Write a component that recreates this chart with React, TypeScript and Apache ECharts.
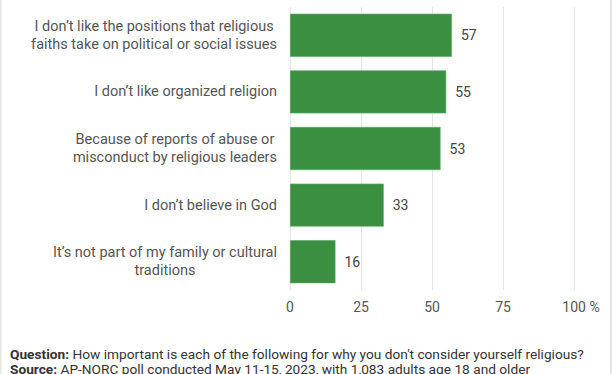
import React, { useEffect, useRef } from "react";
import * as echarts from "echarts";

const categories = [
  "I don\u2019t like the positions that religious\nfaiths take on political or social issues",
  "I don\u2019t like organized religion",
  "Because of reports of abuse or\nmisconduct by religious leaders",
  "I don\u2019t believe in God",
  "It\u2019s not part of my family or cultural\ntraditions",
];
const values = [57, 55, 53, 33, 16];
const tickValues = [0, 25, 50, 75, 100];
const questionLabel = "Question:";
const questionText =
  " How important is each of the following for why you don't consider yourself religious?";
const sourceLabel = "Source:";
const sourceText = " AP-NORC poll conducted May 11-15, 2023, with 1,083 adults age 18 and older";

const FONT = "Roboto, 'Noto Sans', sans-serif";

export default function App() {
  const ref = useRef<HTMLDivElement>(null);
  useEffect(() => {
    document.body.style.margin = "0";
    const chart = echarts.init(ref.current!, null, { renderer: "svg" });
    chart.setOption({
      animation: false,
      backgroundColor: "#ffffff",
      textStyle: { fontFamily: FONT },
      grid: { left: 290, right: 38, top: 7, bottom: 84, containLabel: false },
      xAxis: {
        type: "value",
        min: tickValues[0],
        max: tickValues[tickValues.length - 1],
        interval: 25,
        axisLine: { show: false },
        axisTick: { show: false },
        splitLine: { show: true, lineStyle: { color: "#e6e6e6", width: 1 } },
        axisLabel: {
          margin: 10,
          color: "#555555",
          fontSize: 14,
          fontFamily: FONT,
          formatter: (v: number) => (v === 100 ? "{p|100 %}" : String(v)),
          rich: {
            p: { padding: [0, 0, 0, 14], color: "#555555", fontSize: 14, fontFamily: FONT },
          },
        },
      },
      yAxis: {
        type: "category",
        inverse: true,
        data: categories,
        axisLine: { show: false },
        axisTick: { show: false },
        splitLine: { show: false },
        axisLabel: {
          margin: 13,
          align: "right",
          formatter: (v: string) =>
            v
              .split("\n")
              .map((l) => `{c|${l}}`)
              .join("\n"),
          rich: {
            c: {
              align: "center",
              color: "#555555",
              fontSize: 14.5,
              lineHeight: 18,
              fontFamily: FONT,
            },
          },
        },
      },
      series: [
        {
          type: "bar",
          data: values,
          barCategoryGap: "24%",
          itemStyle: { color: "#3a8f41", borderColor: "#5ea863", borderWidth: 0.6 },
          label: {
            show: true,
            position: "right",
            distance: 9,
            color: "#444444",
            fontSize: 14,
            fontFamily: FONT,
          },
        },
      ],
      graphic: [
        { type: "rect", left: 0, top: 0, shape: { x: 0, y: 0, width: 1.5, height: 374 }, style: { fill: "#e4e4e4" } },
        { type: "rect", left: 610, top: 0, shape: { x: 0, y: 0, width: 2, height: 374 }, style: { fill: "#e4e4e4" } },
        {
          type: "text",
          left: 10,
          top: 347,
          style: {
            text: `{b|${questionLabel}}{n|${questionText}}`,
            rich: {
              b: { fontWeight: "bold", fontSize: 13.7, fill: "#333333", fontFamily: FONT },
              n: { fontSize: 13.7, fill: "#333333", fontFamily: FONT },
            },
          },
        },
        {
          type: "text",
          left: 10,
          top: 362,
          style: {
            text: `{b|${sourceLabel}}{n|${sourceText}}`,
            rich: {
              b: { fontWeight: "bold", fontSize: 13.7, fill: "#333333", fontFamily: FONT },
              n: { fontSize: 13.7, fill: "#333333", fontFamily: FONT },
            },
          },
        },
      ],
    });
    return () => chart.dispose();
  }, []);
  return <div ref={ref} style={{ width: 612, height: 374, position: "absolute", left: 0, top: 0 }} />;
}
